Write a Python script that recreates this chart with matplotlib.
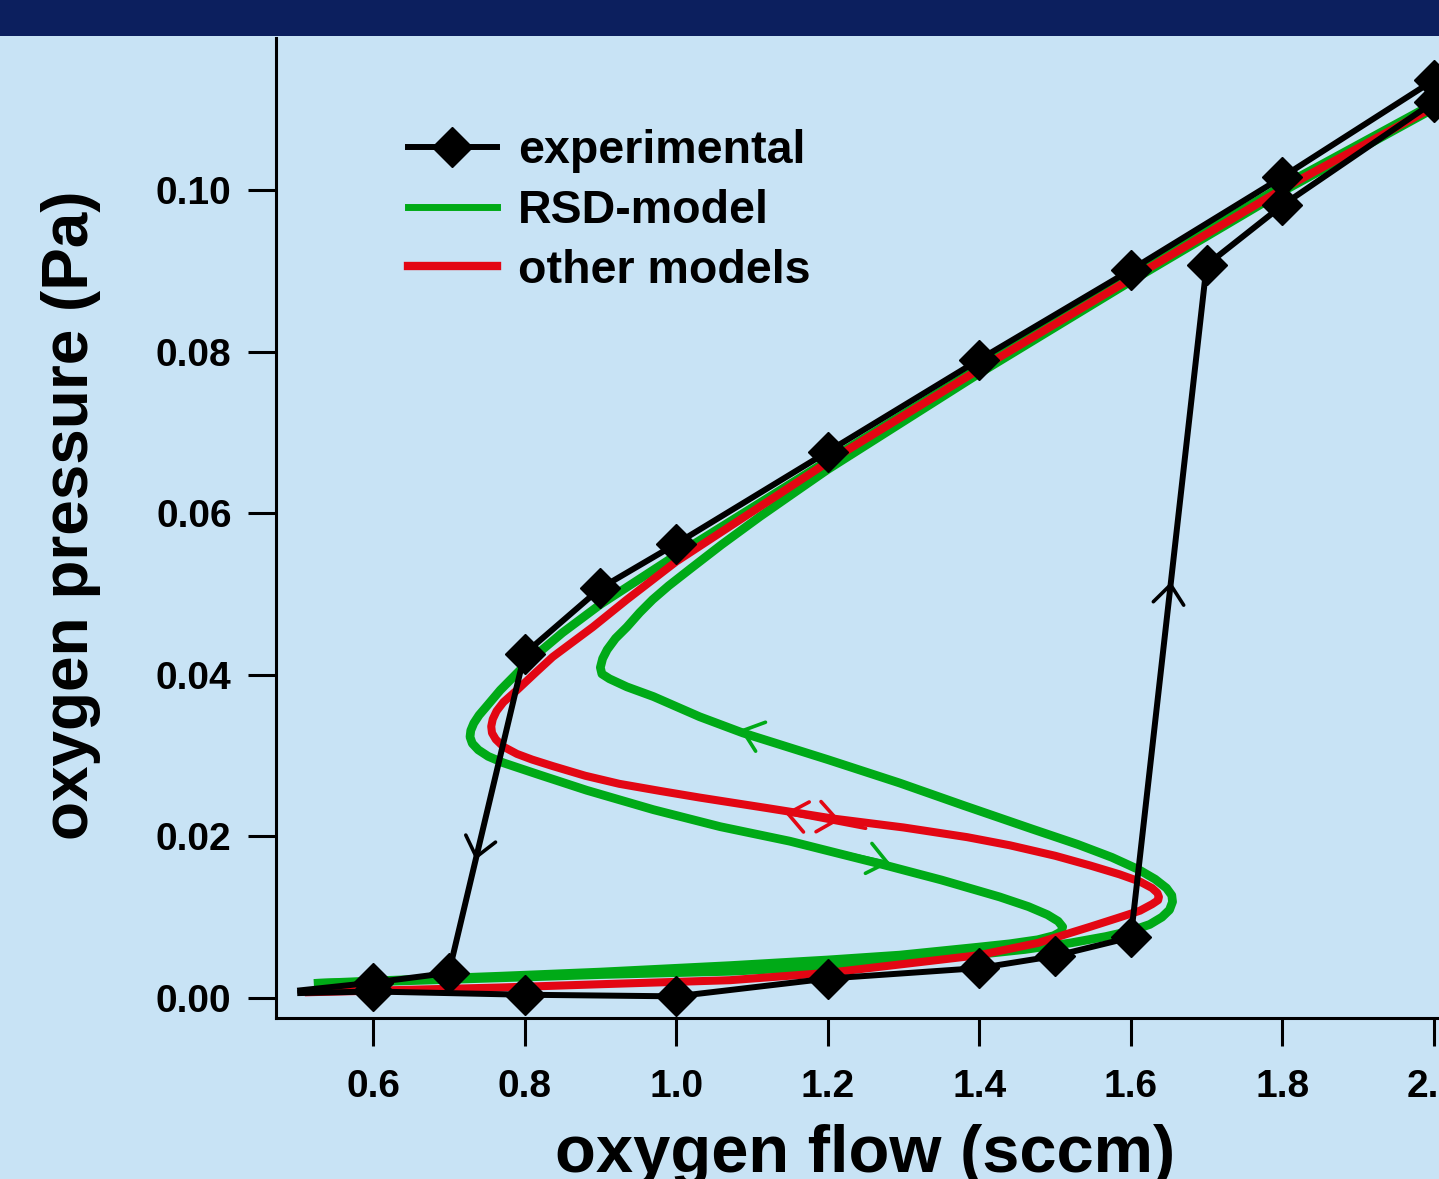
import matplotlib
matplotlib.use('Agg')
import matplotlib.pyplot as plt
from matplotlib.patches import Rectangle
from matplotlib.lines import Line2D

plt.rcParams['font.family'] = ['Liberation Sans', 'DejaVu Sans']
plt.rcParams['font.weight'] = 'bold'

# ---------------- data ----------------
# experimental, increasing flow sweep
exp_up_flow = [0.50, 0.6, 0.8, 1.0, 1.2, 1.4, 1.5, 1.6, 1.7, 1.8, 2.0]
exp_up_p = [0.0006, 0.0008, 0.0004, 0.0002, 0.0024, 0.0037, 0.0052, 0.0075, 0.0907, 0.0981, 0.1109]
# experimental, decreasing flow sweep
exp_down_flow = [2.0, 1.8, 1.6, 1.4, 1.2, 1.0, 0.9, 0.8, 0.7, 0.6, 0.50]
exp_down_p = [0.1136, 0.1016, 0.0901, 0.0790, 0.0676, 0.0562, 0.0507, 0.0426, 0.0031, 0.0019, 0.0009]

# "other models" curve (red)
red_flow = [0.51, 0.60, 0.77, 0.90, 1.071, 1.20, 1.30, 1.40, 1.477, 1.546, 1.586, 1.612, 1.628,
            1.636, 1.637, 1.635, 1.628, 1.612, 1.585, 1.546, 1.50, 1.44, 1.384, 1.30, 1.207, 1.12,
            1.031, 0.98, 0.925, 0.88, 0.837, 0.81, 0.790, 0.772, 0.762, 0.757, 0.756, 0.758, 0.763,
            0.772, 0.790, 0.815, 0.837, 0.890, 0.935, 1.0, 1.2, 1.4, 1.6, 1.8, 2.01]
red_p = [0.0007, 0.0009, 0.0013, 0.0017, 0.0022, 0.0031, 0.0042, 0.0053, 0.0068, 0.0088, 0.0100, 0.0108,
         0.0116, 0.0121, 0.0125, 0.0130, 0.0136, 0.0144, 0.0153, 0.0164, 0.0176, 0.0189, 0.0199,
         0.0211, 0.0222, 0.0235, 0.0248, 0.0256, 0.0265, 0.0275, 0.0287, 0.0295, 0.0302, 0.0311,
         0.0320, 0.0328, 0.0336, 0.0345, 0.0355, 0.0366, 0.0381, 0.0403, 0.0422, 0.0459, 0.0493,
         0.0540, 0.0663, 0.0778, 0.0890, 0.1001, 0.1108]

# RSD-model curves (green), outer and inner branch
g1_flow = [0.522, 0.60, 0.77, 0.90, 1.071, 1.20, 1.30, 1.40, 1.46, 1.52, 1.567, 1.60, 1.625, 1.641,
           1.651, 1.655, 1.654, 1.647, 1.632, 1.61, 1.575, 1.53, 1.47, 1.38, 1.295, 1.20, 1.088,
           1.031, 0.970, 0.935, 0.912, 0.902, 0.900, 0.903, 0.909, 0.920, 0.935, 0.952, 0.969,
           0.99, 1.02, 1.06, 1.111, 1.16, 1.2, 1.4, 1.6, 1.8, 2.01]
g1_p = [0.0018, 0.0020, 0.0025, 0.0029, 0.0033, 0.0039, 0.0045, 0.0054, 0.0060, 0.0068, 0.0076, 0.0083,
        0.0091, 0.0100, 0.0109, 0.0119, 0.0127, 0.0136, 0.0147, 0.0159, 0.0174, 0.0190, 0.0209,
        0.0238, 0.0266, 0.0295, 0.0328, 0.0348, 0.0373, 0.0385, 0.0395, 0.0401, 0.0409, 0.0420,
        0.0431, 0.0445, 0.0459, 0.0477, 0.0493, 0.0510, 0.0532, 0.0561, 0.0596, 0.0628, 0.0654,
        0.0773, 0.0887, 0.0998, 0.1106]
g2_flow = [0.522, 0.60, 0.77, 0.90, 1.071, 1.20, 1.295, 1.40, 1.44, 1.477, 1.498, 1.508, 1.510, 1.504,
           1.490, 1.465, 1.427, 1.35, 1.273, 1.15, 1.058, 0.97, 0.882, 0.82, 0.772, 0.752, 0.739,
           0.731, 0.728, 0.729, 0.733, 0.740, 0.750, 0.768, 0.807, 0.85, 0.90, 1.0, 1.2, 1.4, 1.6,
           1.8, 2.01]
g2_p = [0.0018, 0.0021, 0.0027, 0.0032, 0.0040, 0.0047, 0.0053, 0.0063, 0.0067, 0.0072, 0.0077, 0.0082,
        0.0088, 0.0095, 0.0103, 0.0113, 0.0125, 0.0146, 0.0165, 0.0194, 0.0212, 0.0233, 0.0257,
        0.0276, 0.0291, 0.0299, 0.0307, 0.0315, 0.0323, 0.0331, 0.0340, 0.0350, 0.0361, 0.0381,
        0.0418, 0.0452, 0.0487, 0.0548, 0.0665, 0.0780, 0.0893, 0.1005, 0.1112]

# direction chevrons: (tail flow, tail p, tip flow, tip p, series)
chevrons = [
    (0.80, 0.0426, 0.7354, 0.0171, 'exp'),
    (1.60, 0.0075, 1.6529, 0.0515, 'exp'),
    (1.20, 0.0295, 1.0842, 0.0332, 'rsd'),
    (1.15, 0.0194, 1.2821, 0.0167, 'rsd'),
    (1.25, 0.0210, 1.1436, 0.0229, 'other'),
    (1.10, 0.0238, 1.2162, 0.0220, 'other'),
]

x_ticks = [0.6, 0.8, 1.0, 1.2, 1.4, 1.6, 1.8, 2.0]
x_ticklabels = ['0.6', '0.8', '1.0', '1.2', '1.4', '1.6', '1.8', '2.0']
y_ticks = [0.00, 0.02, 0.04, 0.06, 0.08, 0.10]
y_ticklabels = ['0.00', '0.02', '0.04', '0.06', '0.08', '0.10']
legend_labels = ['experimental', 'RSD-model', 'other models']

# ---------------- style ----------------
BG = '#c8e3f5'
NAVY = '#0c1f5e'
GREEN = '#00aa17'
RED = '#e30613'
BLACK = '#000000'
colors = {'exp': BLACK, 'rsd': GREEN, 'other': RED}

W, H = 1439, 1179
fig = plt.figure(figsize=(W / 100, H / 100), dpi=100, facecolor=BG)
fig.add_artist(Rectangle((0, 1 - 36 / H), 1, 36 / H, transform=fig.transFigure,
                         facecolor=NAVY, edgecolor='none', zorder=10))

ax = fig.add_axes([276 / W, 1 - 1018 / H, 1 - 276 / W, (1018 - 38) / H])
ax.patch.set_visible(False)

ax.plot(g1_flow, g1_p, color=GREEN, lw=6.3, solid_capstyle='butt', solid_joinstyle='round', zorder=2)
ax.plot(g2_flow, g2_p, color=GREEN, lw=6.3, solid_capstyle='butt', solid_joinstyle='round', zorder=2)
ax.plot(red_flow, red_p, color=RED, lw=5.8, solid_capstyle='butt', solid_joinstyle='round', zorder=3)

mk = dict(marker='D', ms=20, mfc=BLACK, mec=BLACK, mew=1)
ax.plot(exp_up_flow, exp_up_p, color=BLACK, lw=4.3, markevery=list(range(1, len(exp_up_flow))),
        solid_capstyle='butt', zorder=4, **mk)
ax.plot(exp_down_flow, exp_down_p, color=BLACK, lw=4.3,
        markevery=list(range(0, len(exp_down_flow) - 1)), solid_capstyle='butt', zorder=4, **mk)

for tf, tp, hf, hp, s in chevrons:
    ax.annotate('', xy=(hf, hp), xytext=(tf, tp),
                arrowprops=dict(arrowstyle='->,head_length=0.68,head_width=0.55',
                                color=colors[s], lw=2.6, shrinkA=0, shrinkB=0,
                                mutation_scale=20),
                zorder=5)

ax.set_xlim(0.472, 2.0066)
ax.set_ylim(-0.00248, 0.1188)
ax.set_xticks(x_ticks)
ax.set_xticklabels(x_ticklabels)
ax.set_yticks(y_ticks)
ax.set_yticklabels(y_ticklabels)
ax.tick_params(direction='out', length=20, width=2.2, labelsize=28, colors=BLACK)
ax.tick_params(axis='x', pad=17)
ax.tick_params(axis='y', pad=12)
for s in ['top', 'right']:
    ax.spines[s].set_visible(False)
for s in ['left', 'bottom']:
    ax.spines[s].set_linewidth(2.2)

handles = [Line2D([], [], color=BLACK, lw=4.3, **mk),
           Line2D([], [], color=GREEN, lw=5),
           Line2D([], [], color=RED, lw=6)]
ax.legend(handles, legend_labels, loc='upper left', bbox_to_anchor=(408 / W, 1 - 129 / H),
          bbox_transform=fig.transFigure, frameon=False, fontsize=33.5, handlelength=1.91,
          handletextpad=0.45, labelspacing=0.34, borderpad=0, borderaxespad=0)

fig.text(865 / W, 1 - 1172 / H, 'oxygen flow (sccm)', ha='center', va='baseline',
         fontsize=48.2, fontweight='bold')
fig.text(88 / W, 1 - 515 / H, 'oxygen pressure (Pa)', ha='center', va='baseline',
         rotation=90, rotation_mode='anchor', fontsize=46, fontweight='bold')

fig.savefig('out.png', dpi=100, facecolor=BG)
